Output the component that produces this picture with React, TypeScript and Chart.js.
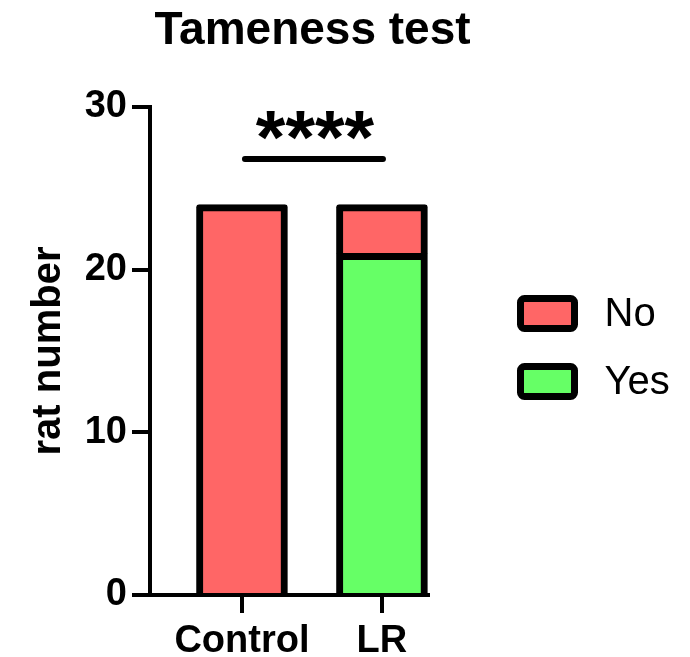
import { useEffect, useRef } from 'react';
import { Chart, registerables } from 'chart.js';

Chart.register(...registerables);

// ---- data ----
const categories = ['Control', 'LR'];
const yesValues = [0, 21];
const noValues = [24, 3];
const yTickValues = [0, 10, 20, 30];
const seriesLabels = ['Yes', 'No'];
const seriesColors = ['#66FF66', '#FF6666'];
const chartTitle = 'Tameness test';
const yAxisTitle = 'rat number';
const significanceText = '****';
const significanceLevel = 26.8;

const FONT = "'Liberation Sans', Arial, Helvetica, sans-serif";

const decorations = {
  id: 'decorations',
  afterDraw(chart: any) {
    const { ctx, chartArea, scales } = chart;
    const xs = scales.x;
    const ys = scales.y;
    ctx.save();
    // title
    ctx.fillStyle = '#000';
    ctx.font = `bold 46px ${FONT}`;
    ctx.textAlign = 'center';
    ctx.textBaseline = 'middle';
    ctx.fillText(chartTitle, 312.5, 31);

    // significance bar
    const x0 = xs.getPixelForValue(0);
    const x1 = xs.getPixelForValue(1);
    const yl = ys.getPixelForValue(significanceLevel);
    ctx.strokeStyle = '#000';
    ctx.lineWidth = 6;
    ctx.lineCap = 'round';
    ctx.beginPath();
    ctx.moveTo(x0 + 3, yl);
    ctx.lineTo(x1 + 1, yl);
    ctx.stroke();
    ctx.font = `bold 76px ${FONT}`;
    ctx.textAlign = 'center';
    ctx.textBaseline = 'alphabetic';
    ctx.fillText(significanceText, (x0 + x1) / 2 + 3, yl + 4);

    // legend (reverse dataset order: No, Yes)
    const ds = chart.data.datasets.slice().reverse();
    const cy = (chartArea.top + chartArea.bottom) / 2;
    ds.forEach((d: any, i: number) => {
      const centerY = cy - 37.5 + i * 68;
      const bx = chartArea.right + 92.5;
      const bw = 54;
      const bh = 30;
      ctx.beginPath();
      ctx.roundRect(bx, centerY - bh / 2, bw, bh, 4);
      ctx.fillStyle = d.backgroundColor;
      ctx.fill();
      ctx.lineWidth = 7;
      ctx.strokeStyle = '#000';
      ctx.stroke();
      ctx.fillStyle = '#000';
      ctx.font = `40px ${FONT}`;
      ctx.textAlign = 'left';
      ctx.textBaseline = 'middle';
      ctx.fillText(d.label, bx + bw + 30, centerY + 1);
    });
    ctx.restore();
  },
};

export default function App() {
  const ref = useRef<HTMLCanvasElement | null>(null);
  useEffect(() => {
    if (!ref.current) return;
    const valuesBySeries = [yesValues, noValues];
    const chart = new Chart(ref.current, {
      type: 'bar',
      data: {
        datasets: seriesLabels.map((label, s) => ({
          label,
          data: categories.map((_, i) => ({ x: i, y: valuesBySeries[s][i] })),
          backgroundColor: seriesColors[s],
          borderColor: '#000',
          borderWidth: 7,
          borderSkipped: 'start',
          borderRadius: 3,
          barThickness: 91,
        })),
      },
      plugins: [decorations],
      options: {
        responsive: false,
        animation: false,
        devicePixelRatio: 1,
        layout: { padding: { top: 107, right: 262, left: 0, bottom: 0 } },
        plugins: {
          legend: { display: false },
          title: { display: false },
          tooltip: { enabled: false },
        },
        scales: {
          x: {
            type: 'linear',
            stacked: true,
            min: -0.657,
            max: 1.329,
            offset: false,
            z: 1,
            afterBuildTicks: (s: any) => {
              s.ticks = categories.map((_, i) => ({ value: i }));
            },
            afterFit: (s: any) => {
              s.height = 62;
            },
            ticks: {
              autoSkip: false,
              maxRotation: 0,
              color: '#000',
              padding: 6,
              font: { family: FONT, size: 38, weight: 'bold' },
              callback: (v: any) => categories[v as number],
            },
            grid: {
              display: true,
              offset: false,
              drawOnChartArea: false,
              drawTicks: true,
              tickLength: 18,
              lineWidth: 4,
              color: '#000',
            },
            border: { display: true, width: 4, color: '#000' },
          },
          y: {
            stacked: true,
            min: 0,
            max: 30,
            z: 1,
            afterBuildTicks: (s: any) => {
              s.ticks = yTickValues.map((v) => ({ value: v }));
            },
            afterFit: (s: any) => {
              s.width = 150;
            },
            ticks: {
              color: '#000',
              padding: 5,
              font: { family: FONT, size: 38, weight: 'bold' },
            },
            grid: {
              display: true,
              drawOnChartArea: false,
              drawTicks: true,
              tickLength: 18,
              lineWidth: 4,
              color: '#000',
            },
            border: { display: true, width: 4, color: '#000' },
            title: {
              display: true,
              text: yAxisTitle,
              color: '#000',
              font: { family: FONT, size: 40, weight: 'bold' },
              padding: { top: 25, bottom: 0 },
            },
          },
        },
      } as any,
    });
    return () => chart.destroy();
  }, []);
  return (
    <div style={{ position: 'absolute', left: 0, top: 0, width: 690, height: 657 }}>
      <canvas ref={ref} width={690} height={657} style={{ display: 'block' }} />
    </div>
  );
}
